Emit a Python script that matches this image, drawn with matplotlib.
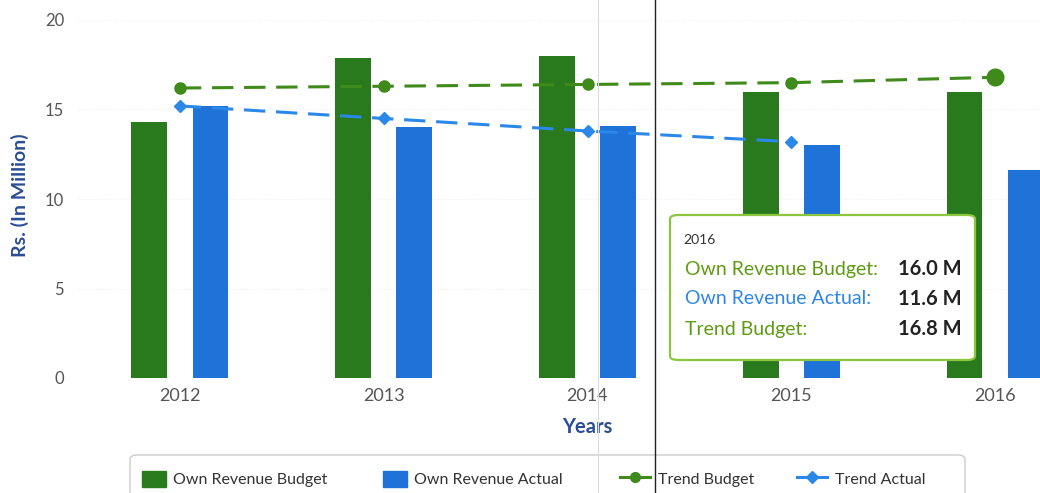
import matplotlib
matplotlib.use("Agg")
import matplotlib.pyplot as plt
import numpy as np
from matplotlib.lines import Line2D
from matplotlib.patches import FancyBboxPatch, Patch

plt.rcParams['font.family'] = ['Lato', 'DejaVu Sans']

years = ["2012", "2013", "2014", "2015", "2016"]
budget = [14.3, 17.9, 18.0, 16.0, 16.0]
actual = [15.2, 14.0, 14.1, 13.0, 11.6]
trend_budget = [16.2, 16.3, 16.4, 16.5, 16.8]
trend_actual = [15.2, 14.5, 13.8, 13.2]

C_BUD = "#287a1c"
C_ACT = "#1f72d8"
C_TB = "#3f8a1a"
C_TA = "#2b88e8"
C_AX = "#2b4d96"
C_TICK = "#555555"

W, H = 1040, 493
fig = plt.figure(figsize=(W / 100, H / 100), dpi=100)

def fx(px):
    return px / W

def fy(py):
    return 1 - py / H

left, right, top, bottom = 78, 1097, 20, 378
ax = fig.add_axes([fx(left), fy(bottom), fx(right - left), fy(top) - fy(bottom)])

x = np.arange(len(years))
bw = 0.176
ax.bar(x - 0.15, budget, bw, color=C_BUD, zorder=2)
ax.bar(x + 0.15, actual, bw, color=C_ACT, zorder=2)

ax.plot(x, trend_budget, color=C_TB, lw=2.2, dashes=(7, 3.5), marker='o', ms=8, zorder=4)
ax.plot(x[-1], trend_budget[-1], 'o', color=C_TB, ms=12, zorder=5)
ax.plot(x[:len(trend_actual)], trend_actual, color=C_TA, lw=2.2, dashes=(7, 3.5),
        marker='D', ms=6.5, zorder=4)

ax.set_xlim(-0.5, 4.5)
ax.set_ylim(0, 20)
ax.set_yticks([0, 5, 10, 15, 20])
ax.set_xticks(x)
ax.set_xticklabels(years)
ax.grid(axis='y', color='#eeeeee', lw=0.8, ls=':', zorder=0)
for s in ax.spines.values():
    s.set_visible(False)
ax.tick_params(axis='both', length=0, colors=C_TICK, labelsize=12)
ax.tick_params(axis='y', pad=10)
ax.tick_params(axis='x', pad=7)
for lab in ax.get_xticklabels():
    lab.set_fontsize(13)

fig.text(fx(587), fy(427), "Years", ha='center', va='center', fontsize=14.5,
         fontweight='bold', color=C_AX)
fig.text(fx(20), fy(195), "Rs. (In Million)", ha='center', va='center', fontsize=14,
         fontweight='bold', color=C_AX, rotation=90)

# title, cut off by the top edge (only its bottom edge shows)
fig.text(fx(120), fy(-6.5), "Budget Comparison of Own Revenue by Year (2012 - 2016)",
         ha='left', va='baseline', fontsize=15, fontweight='bold', color="#1f3f8a")
fig.text(fx(728), fy(-4.5), "Own Revenue in Rs. Millions", ha='left', va='baseline',
         fontsize=15, fontweight='bold', color="#4a8ee0")

# legend: frame + four items placed individually
frame = FancyBboxPatch((fx(130), fy(505)), fx(835), fy(455) - fy(505),
                       boxstyle="round,pad=0,rounding_size=0.008", transform=fig.transFigure,
                       facecolor='white', edgecolor='#cccccc', lw=1.0, zorder=1)
fig.add_artist(frame)
handles = [
    Patch(facecolor=C_BUD, edgecolor=C_BUD),
    Patch(facecolor=C_ACT, edgecolor=C_ACT),
    Line2D([], [], color=C_TB, lw=2.2, marker='o', ms=7),
    Line2D([], [], color=C_TA, lw=2.2, marker='D', ms=6),
]
labels = ["Own Revenue Budget", "Own Revenue Actual", "Trend Budget", "Trend Actual"]
starts = [142, 383, 620, 797]
hlens = [1.5, 1.5, 1.9, 1.9]
for h, lab, xs, hl in zip(handles, labels, starts, hlens):
    lg = fig.legend([h], [lab], loc='center left', bbox_to_anchor=(fx(xs), fy(479)),
                    frameon=False, fontsize=11.5, handlelength=hl, handleheight=1.25,
                    handletextpad=0.45, borderpad=0, borderaxespad=0,
                    labelcolor='#333333')
    lg.set_zorder(3)

# tooltip
tx0, ty0, tx1, ty1 = 670, 215, 975, 360
box = FancyBboxPatch((fx(tx0), fy(ty1)), fx(tx1 - tx0), fy(ty0) - fy(ty1),
                     boxstyle="round,pad=0,rounding_size=0.008", transform=fig.transFigure,
                     facecolor='white', edgecolor='#8cc63e', lw=1.6, zorder=10)
fig.add_artist(box)
fig.text(fx(683), fy(240), "2016", fontsize=10, color='#333333', va='center', zorder=11)
rows = [("Own Revenue Budget:", "16.0 M", "#5e9a14", 269),
        ("Own Revenue Actual:", "11.6 M", "#2f86e6", 299),
        ("Trend Budget:", "16.8 M", "#5e9a14", 329)]
for lab, val, col, py in rows:
    fig.text(fx(685), fy(py), lab, fontsize=14, color=col, va='center', zorder=11)
    fig.text(fx(962), fy(py), val, fontsize=14.5, color='#222222', fontweight='bold',
             va='center', ha='right', zorder=11)

# vertical artifact lines
fig.add_artist(Line2D([fx(598), fx(598)], [0.0, 1.0], color='#dddddd', lw=0.8,
                      transform=fig.transFigure, zorder=12))
fig.add_artist(Line2D([fx(655), fx(655)], [0.0, 1.0], color='#222222', lw=1.0,
                      transform=fig.transFigure, zorder=12))

fig.savefig("out.png", dpi=100)
